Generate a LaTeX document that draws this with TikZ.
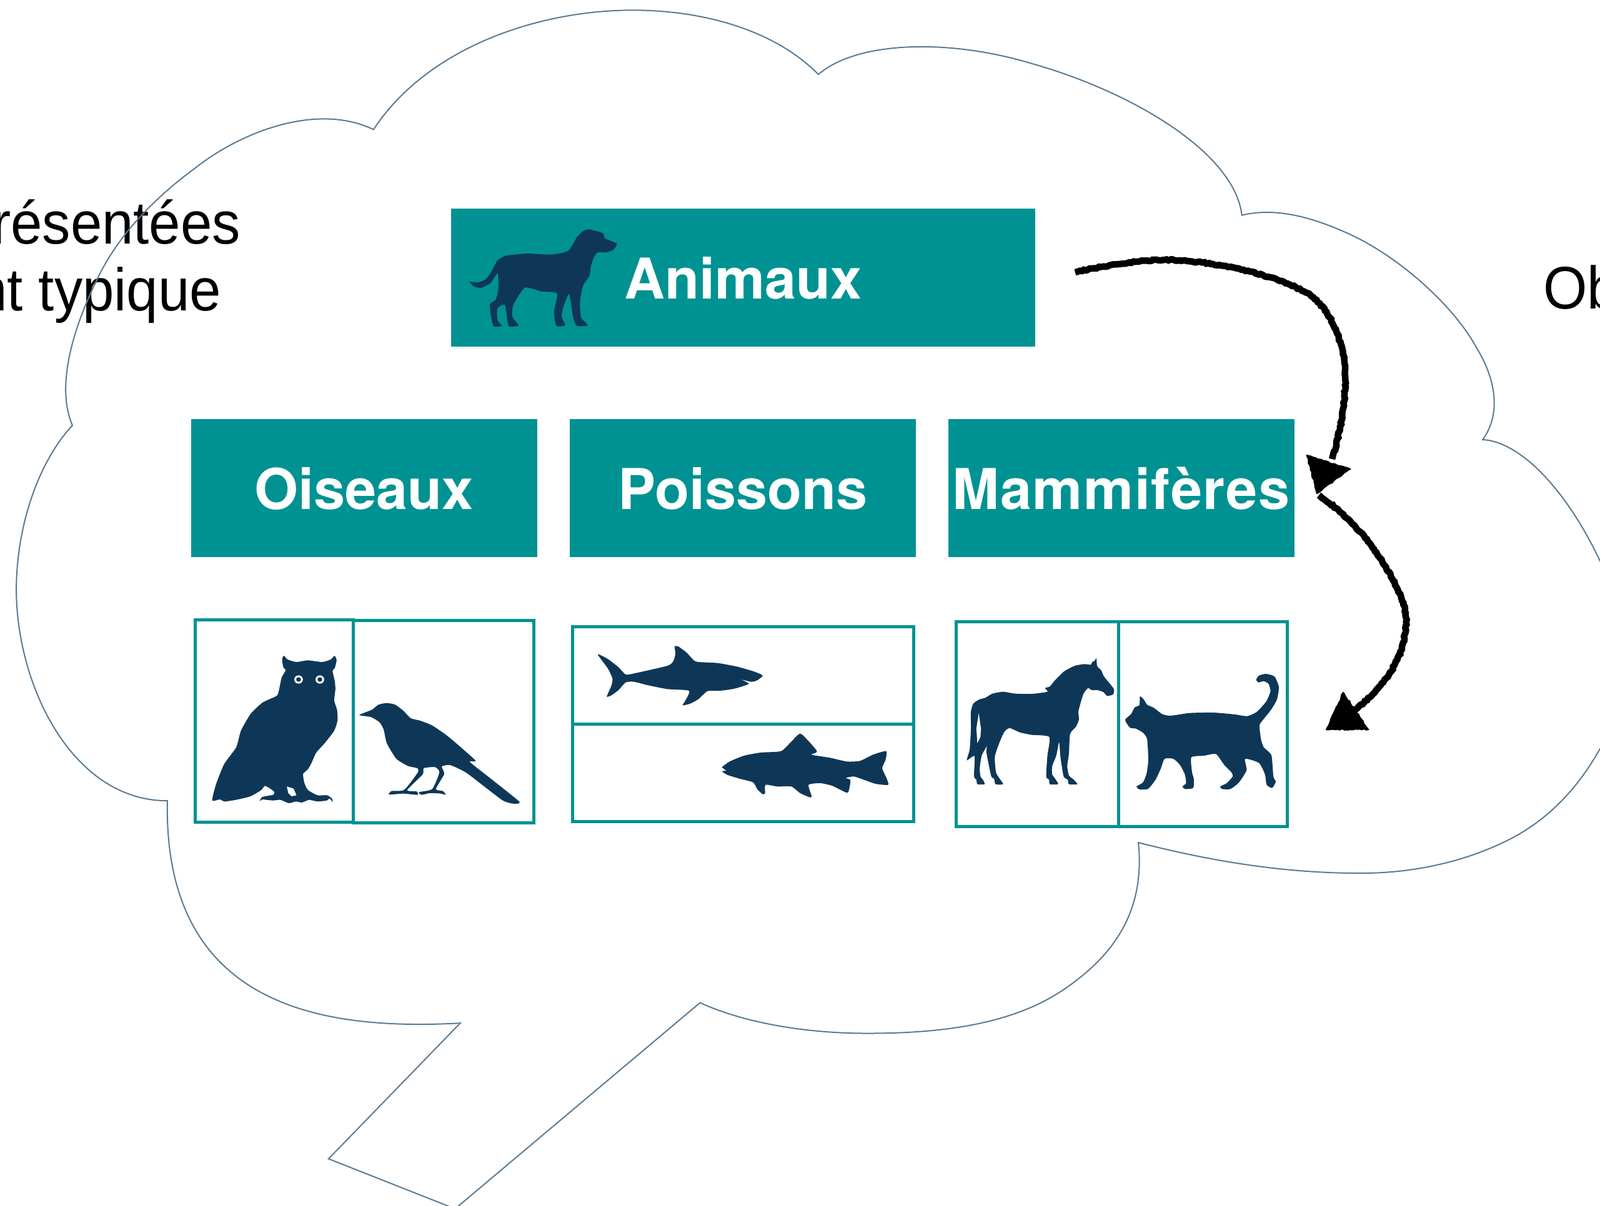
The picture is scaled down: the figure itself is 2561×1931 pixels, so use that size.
\documentclass[tikz,border=0pt]{standalone}
\usepackage{fontspec}
\setmainfont{Liberation Sans}
\newfontfamily\hdrfont{TeX Gyre Heros}
\newfontfamily\sayfont[FakeStretch=0.94]{Liberation Sans}
\usetikzlibrary{decorations.pathmorphing}
\definecolor{tealbox}{HTML}{009292}
\definecolor{navysil}{HTML}{0E3757}
\definecolor{cloudline}{HTML}{587A94}
\tikzset{roughline/.style={decorate,decoration={random steps,segment length=1pt,amplitude=0.3pt}}}
\begin{document}
\begin{tikzpicture}[x=0.01cm,y=-0.01cm,
   catbox/.style={fill=tealbox,anchor=north west,inner sep=0,outer sep=0,text=white,font=\hdrfont\fontsize{25.6pt}{30pt}\bfseries,text height=19.2pt,text depth=0pt,minimum height=2.21cm,align=center},
   imgbox/.style={draw=tealbox,line width=0.05cm,anchor=north west,inner sep=0,outer sep=0},
   say/.style={font=\sayfont\fontsize{27.4pt}{32pt}\selectfont,inner sep=0,outer sep=0},
   sil/.style={fill=navysil,draw=none,smooth cycle,tension=.35},
   gap/.style={fill=white,draw=none},
   zoomed/.style 2 args={shift={(#1,#2)},xscale=.3827,yscale=.3333},
   cld/.style={draw=cloudline,line width=0.02cm,scale=1.6333},
   sketch/.style={draw=black,line width=0.105cm,roughline},
   sketchhead/.style={fill=black,draw=black,line width=0.02cm,roughline}]
  \path[use as bounding box,clip] (0,0) rectangle (2561,1931);
  \node[say,anchor=base east] (rep) at (385,391) {résentées};
  \node[say,anchor=base east] (typ) at (354,498) {nt typique};
  \node[say,anchor=base west] (obj) at (2470,495) {Ob};
  \draw[cld] (366,127) .. controls (420,45) and (530,10) .. (620,10)
     .. controls (690,10) and (760,30) .. (802,73)
     .. controls (840,40) and (930,38) .. (1010,62)
     .. controls (1110,90) and (1210,150) .. (1217,211)
     .. controls (1250,203) and (1285,213) .. (1318,227.5)
     .. controls (1370,250) and (1425,300) .. (1447,341)
     .. controls (1465,370) and (1472,405) .. (1453,431)
     .. controls (1490,433) and (1535,480) .. (1568,550)
     .. controls (1600,620) and (1600,670) .. (1568,734)
     .. controls (1545,775) and (1515,805) .. (1478,823.5)
     .. controls (1435,845) and (1385,856) .. (1333.5,856)
     .. controls (1260,856) and (1190,845) .. (1115.6,826)
     .. controls (1122,890) and (1095,935) .. (1041,971)
     .. controls (990,1005) and (920,1013) .. (850,1013)
     .. controls (790,1013) and (730,1003) .. (686,983)
     -- (446,1185) -- (322,1136) -- (451,1003)
     .. controls (320,1010) and (160,990) .. (164,785)
     .. controls (70,785) and (15,670) .. (16,575)
     .. controls (17,510) and (40,450) .. (71,417)
     .. controls (55,380) and (70,325) .. (95.6,273)
     .. controls (115,232) and (150,195) .. (191,165)
     .. controls (235,130) and (310,100) .. (366,127) -- cycle;
  \node[catbox,minimum width=9.34cm] (ani) at (722,334) {Animaux};
  \node[catbox,minimum width=5.54cm] (ois) at (305.5,671) {Oiseaux};
  \node[catbox,minimum width=5.54cm] (poi) at (911.5,671) {Poissons};
  \node[catbox,minimum width=5.54cm] (mam) at (1517.5,671) {\addfontfeature{LetterSpace=1.8}Mammifères};
  \node[imgbox,minimum width=2.525cm,minimum height=3.24cm] (owl) at (312.5,992.5) {};
  \node[imgbox,minimum width=2.895cm,minimum height=3.24cm] (bird) at (565,993.5) {};
  \node[imgbox,minimum width=5.465cm,minimum height=1.56cm] (shark) at (916,1003) {};
  \node[imgbox,minimum width=5.465cm,minimum height=1.56cm] (trout) at (916,1159) {};
  \node[imgbox,minimum width=2.6cm,minimum height=3.28cm] (horse) at (1530,995) {};
  \node[imgbox,minimum width=2.7cm,minimum height=3.28cm] (cat) at (1790,995) {};
  \fill[sil,shift={(710,320)},scale=.3333] plot coordinates {(125,393) (165,397) (205,380) (235,335) (260,290) (300,268) (400,258) (520,263) (598,245) (640,180) (670,150) (700,142) (765,160) (775,185) (832,210) (815,240) (780,253) (740,252) (720,280) (707,320) (700,365) (670,412) (655,490) (660,565) (688,595) (688,605) (640,605) (622,565) (603,452) (575,515) (567,560) (583,597) (580,605) (542,605) (530,540) (545,450) (470,440) (390,422) (335,505) (330,560) (358,598) (358,605) (312,605) (295,505) (258,522) (260,580) (280,605) (238,605) (222,505) (250,480) (263,430) (260,352) (225,400) (180,423) (145,415)};
  \fill[sil,zoomed={290}{970}] plot coordinates {(430,240) (445,258) (482,270) (530,262) (590,270) (625,258) (642,240) (650,262) (642,300) (633,312) (642,360) (645,400) (640,455) (652,500) (654,550) (640,600) (600,660) (565,705) (545,755) (530,785) (510,808) (515,850) (530,885) (570,910) (610,910) (630,925) (634,942) (620,925) (610,935) (570,940) (535,932) (505,945) (480,940) (450,948) (415,932) (385,935) (355,932) (340,930) (328,938) (340,918) (385,908) (390,895) (375,880) (350,865) (335,885) (290,915) (230,932) (180,940) (162,930) (130,935) (145,860) (180,760) (230,680) (250,600) (290,520) (340,465) (400,432) (410,400) (420,345) (437,310) (427,295) (422,255)};
  \fill[gap,zoomed={290}{970}] (491,354) ellipse [x radius=18,y radius=20] (580,354) ellipse [x radius=18,y radius=20];
  \fill[navysil,zoomed={290}{970}] (491,354) ellipse [x radius=10,y radius=11] (580,354) ellipse [x radius=10,y radius=11];
  \fill[gap,zoomed={290}{970}] (442,868) -- (470,878) -- (482,910) -- (462,915) -- (448,900) -- cycle;
  \fill[sil,zoomed={290}{970}] plot coordinates {(745,525) (775,510) (800,498) (825,475) (860,467) (895,475) (930,505) (960,540) (1000,552) (1050,575) (1110,622) (1170,680) (1232,745) (1207,750) (1300,835) (1415,942) (1385,950) (1345,935) (1270,870) (1190,800) (1125,765) (1090,772) (1100,808) (1065,880) (1095,890) (1106,908) (1085,902) (1040,900) (1005,908) (995,895) (1050,880) (1080,800) (1062,775) (1015,780) (1010,810) (945,885) (985,892) (988,908) (930,902) (885,906) (868,905) (880,890) (925,888) (945,870) (990,800) (988,780) (950,770) (900,735) (860,660) (847,595) (830,560) (795,535)};
  \fill[sil,zoomed={900}{980}] plot coordinates {(148,203) (190,225) (235,265) (265,300) (300,295) (440,258) (465,235) (473,200) (470,165) (485,165) (520,195) (550,232) (570,240) (650,245) (730,262) (800,285) (838,305) (815,328) (790,335) (750,325) (780,345) (720,368) (660,378) (607,380) (570,418) (535,440) (503,448) (515,425) (530,378) (440,370) (360,352) (300,335) (265,338) (235,375) (205,400) (186,406) (205,355) (210,320) (190,270)};
  \fill[sil,zoomed={900}{980}] plot coordinates {(668,745) (700,718) (760,690) (830,675) (915,668) (960,620) (998,585) (1065,668) (1042,685) (1120,700) (1190,718) (1245,715) (1300,685) (1355,668) (1352,710) (1338,750) (1355,795) (1363,830) (1310,825) (1260,805) (1220,790) (1185,797) (1205,807) (1200,850) (1190,868) (1130,835) (1080,822) (1030,830) (1043,885) (1035,890) (995,870) (958,838) (900,838) (850,830) (848,870) (838,875) (815,850) (798,818) (740,800) (690,782) (668,765) (685,762) (672,750)};
  \fill[sil,zoomed={1510}{980}] plot coordinates {(640,222) (643,260) (660,280) (672,310) (712,368) (710,395) (685,403) (670,385) (645,375) (620,375) (605,365) (585,395) (565,475) (567,515) (555,550) (530,585) (525,680) (518,740) (525,785) (545,805) (560,827) (525,827) (520,805) (503,790) (490,700) (484,625) (472,690) (455,740) (455,780) (470,805) (480,827) (445,827) (442,805) (430,790) (435,690) (443,600) (370,590) (320,578) (277,557) (255,575) (235,625) (215,695) (220,770) (235,800) (250,827) (218,827) (212,800) (200,788) (180,675) (182,645) (160,690) (152,750) (155,790) (165,805) (173,827) (142,827) (138,805) (128,788) (130,692) (98,712) (110,660) (115,560) (115,480) (125,440) (150,420) (175,412) (205,392) (250,383) (300,392) (370,393) (435,383) (425,365) (445,358) (465,330) (505,285) (550,258) (590,250) (617,253) (622,240) (632,235)};
  \fill[gap,zoomed={1510}{980}] (148,485) -- (157,560) -- (155,600) -- (142,630) -- (138,560) -- cycle;
  \fill[sil,zoomed={1510}{980}] plot coordinates {(822,405) (838,420) (852,445) (880,460) (915,490) (950,498) (1030,485) (1130,483) (1220,492) (1270,500) (1310,480) (1350,430) (1368,380) (1360,345) (1340,332) (1318,338) (1308,325) (1320,305) (1350,297) (1385,310) (1403,360) (1395,420) (1370,470) (1335,520) (1322,545) (1328,610) (1340,650) (1372,688) (1380,790) (1390,815) (1375,845) (1352,830) (1345,780) (1320,725) (1262,705) (1268,760) (1235,820) (1200,850) (1165,850) (1158,838) (1185,822) (1210,790) (1205,770) (1175,735) (1140,682) (1090,690) (1037,698) (1040,770) (1047,800) (1045,845) (1010,850) (1000,838) (1015,822) (1010,780) (990,735) (962,705) (925,705) (910,750) (890,800) (875,825) (855,850) (820,852) (808,838) (835,818) (850,775) (857,710) (852,610) (835,580) (805,560) (780,555) (760,518) (785,490) (800,458) (820,447)};
  \coordinate (fromAni) at (1721,436);
  \coordinate (toMam) at (2132,735);
  \coordinate (fromMam) at (2111,793);
  \coordinate (toCat) at (2167,1138);
  \draw[sketch] (fromAni) .. controls (1780,422) and (1850,412) .. (1900,418) .. controls (1960,422) and (2060,445) .. (2102,476) .. controls (2130,500) and (2150,545) .. (2153,592) .. controls (2155,640) and (2145,695) .. (toMam);
  \draw[sketch] (fromMam) .. controls (2150,820) and (2190,860) .. (2216,905) .. controls (2235,935) and (2255,975) .. (2250,1002) .. controls (2247,1060) and (2210,1105) .. (toCat);
  \draw[sketchhead] (2092,729) -- (2161,751) -- (2108,790) -- cycle;
  \draw[sketchhead] (2150,1109) -- (2190,1168) -- (2123,1168) -- cycle;
\end{tikzpicture}
\end{document}
